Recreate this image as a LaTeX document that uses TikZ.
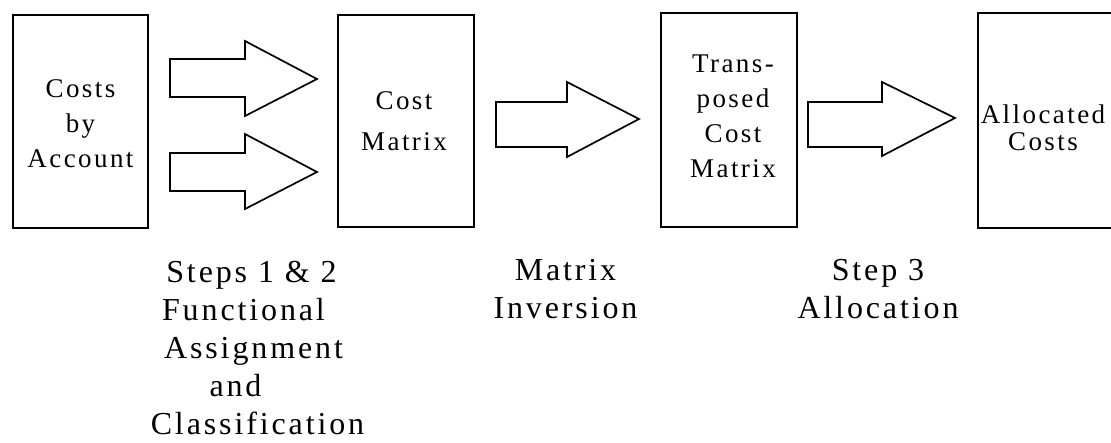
\documentclass[tikz,border=0pt]{standalone}
\usepackage{fontspec}
\setmainfont{Liberation Serif}[LetterSpace=9]
\newcommand\padr[1]{\rule{#1}{0pt}}
\tikzset{
  box/.style={draw, line width=1.7pt, inner sep=0pt},
  boxtext/.style={align=center, inner sep=0pt},
  steplabel/.style={align=center, inner sep=0pt, font=\fontsize{32}{38}\selectfont},
  blockarrow/.style={draw, line width=1.7pt, line join=miter}
}
\begin{document}
\begin{tikzpicture}[x=1pt,y=-1pt]
\useasboundingbox (0,0) rectangle (1111,443);
\clip (0,0) rectangle (1111,443);
% boxes
\node[box, minimum width=135pt, minimum height=213pt] (b1) at (80.5,121.5) {};
\node[box, minimum width=136pt, minimum height=212pt] (b2) at (406,121) {};
\node[box, minimum width=136pt, minimum height=214pt] (b3) at (729,120) {};
\node[box, minimum width=136pt, minimum height=215pt] (b4) at (1046,120.5) {};
% box texts
\node[boxtext, font=\fontsize{27}{35}\selectfont] (t1) at (80.5,124) {Costs\\by\\Account};
\node[boxtext, font=\fontsize{27}{41}\selectfont] (t2) at (404,121) {Cost\\Matrix};
\node[boxtext, font=\fontsize{27}{35}\selectfont] (t3) at (733,116) {Trans-\\posed\\Cost\\Matrix};
\node[boxtext, font=\fontsize{27}{27}\selectfont] (t4) at (1043,127.5) {Allocated\\Costs};
% block arrows
\draw[blockarrow] (170,59) -- (245,59) -- (245,41) -- (317,79) -- (245,116) -- (245,97) -- (170,97) -- cycle;
\draw[blockarrow] (170,153) -- (245,153) -- (245,134) -- (317,172) -- (245,209) -- (245,191) -- (170,191) -- cycle;
\draw[blockarrow] (496,102) -- (567,102) -- (567,82) -- (639,119) -- (567,157) -- (567,147) -- (496,147) -- cycle;
\draw[blockarrow] (808,102) -- (882,102) -- (882,82) -- (955,118) -- (882,156) -- (882,147) -- (808,147) -- cycle;
% step labels
\node[steplabel] (l1) at (257.5,348) {Steps 1 \& 2\padr{12pt}\\Functional\padr{28pt}\\Assignment\padr{8pt}\\and\padr{44pt}\\Classification};
\node[steplabel] (l2) at (565.5,289.5) {Matrix\\Inversion};
\node[steplabel] (l3) at (878,289.5) {Step 3\\Allocation};
\end{tikzpicture}
\end{document}
